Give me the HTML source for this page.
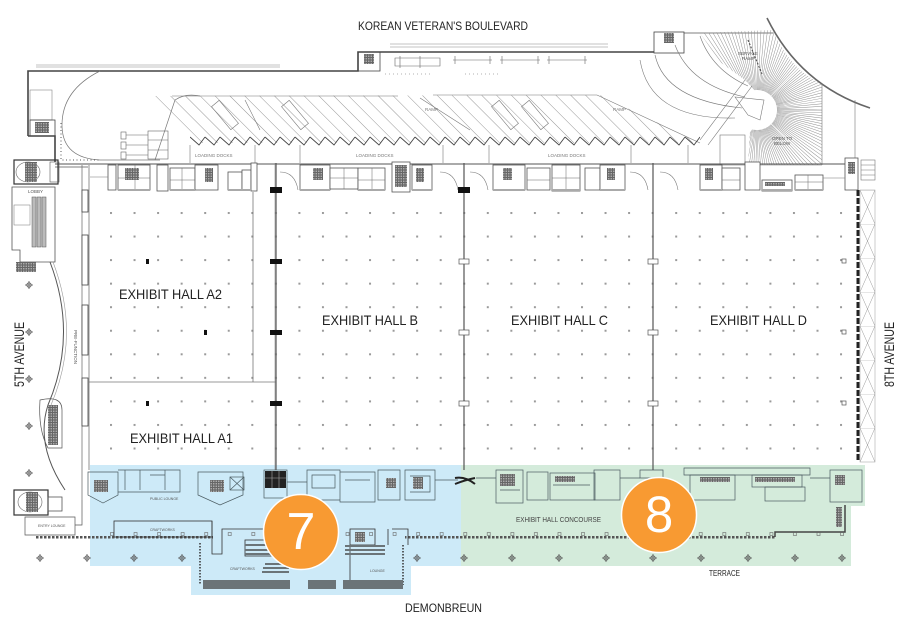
<!DOCTYPE html>
<html><head><meta charset="utf-8"><style>
html,body{margin:0;padding:0;background:#fff;}
svg{display:block;}
text{font-family:"Liberation Sans",sans-serif;}
</style></head><body>
<svg xmlns="http://www.w3.org/2000/svg" width="902" height="631" viewBox="0 0 902 631">
<defs>
<pattern id="dots" x="110" y="212" width="23.55" height="23.55" patternUnits="userSpaceOnUse"><rect x="0" y="0" width="2" height="2" fill="#9a9a9a"/></pattern>
<pattern id="hatch" width="10.5" height="10.5" patternUnits="userSpaceOnUse" patternTransform="rotate(-45)"><line x1="0" y1="0" x2="0" y2="10.5" stroke="#6a6a6a" stroke-width="0.7"/></pattern>
<pattern id="zig" x="190" y="136" width="15" height="10" patternUnits="userSpaceOnUse"><path d="M0 1 L9 9 L15 1" fill="none" stroke="#444" stroke-width="0.9"/></pattern>
<pattern id="xs" x="860" y="190" width="15" height="34" patternUnits="userSpaceOnUse"><path d="M0 0 L15 34 M15 0 L0 34 M0 0 H15" fill="none" stroke="#999" stroke-width="0.5"/></pattern>
<pattern id="tile" width="2.5" height="2.5" patternUnits="userSpaceOnUse"><rect width="2.5" height="2.5" fill="#666"/><rect x="0.6" y="0.6" width="1.3" height="1.3" fill="#bbb"/></pattern>
<pattern id="sq" x="110" y="532" width="23.55" height="6" patternUnits="userSpaceOnUse"><rect x="0.5" y="0.5" width="3" height="3" fill="none" stroke="#666" stroke-width="0.6"/></pattern>
<pattern id="wdash" x="0" y="0" width="4" height="4" patternUnits="userSpaceOnUse"><rect width="2.5" height="4" fill="#555"/></pattern>
<clipPath id="rampclip"><path d="M700 33 L773 30 Q790 70 822 84 L822 165 L748 165 L750 132 L764 116 L762 98 L745 80 L720 62 Z"/></clipPath>
<clipPath id="hatchclip"><path d="M150 96 L600 95 L700 143 L190 143 Z"/></clipPath>
<g id="ch"><circle r="2.2" fill="none" stroke="#555" stroke-width="0.8"/><path d="M-4 0 H4 M0 -4 V4" stroke="#555" stroke-width="0.8"/></g>
</defs>

<rect width="902" height="631" fill="#fff"/>

<!-- colored regions -->
<path d="M90 465 H461 V566 H411 V595 H191 V566 H90 Z" fill="#cdeaf8"/>
<path d="M461 465 H865 V506 H851 V566 H461 Z" fill="#d4ebdb"/>

<!-- top outline -->
<g fill="none" stroke="#444" stroke-width="1.6">
<path d="M28 136 V71 H358 V52 H654"/>
<path d="M28 136 H55 V162"/>
</g>
<g fill="none" stroke="#888" stroke-width="0.6">
<path d="M36 65 H280 M36 67 H280"/>
<path d="M390 44 H608 M390 47 H608"/>
<rect x="30" y="90" width="22" height="30"/>
</g>
<rect x="30" y="120" width="25" height="16" fill="none" stroke="#444" stroke-width="0.8"/>
<rect x="35" y="122" width="14" height="11" fill="url(#tile)"/>
<rect x="358" y="52" width="22" height="19" fill="none" stroke="#444" stroke-width="0.8"/>
<rect x="364" y="54" width="10" height="10" fill="url(#tile)"/>
<g fill="none" stroke="#666" stroke-width="0.6">
<path d="M395 58 H440 V66 H395 Z M400 56 V68 M420 56 V68"/>
<path d="M453 60 H492 M455 56 V64 M490 56 V64 M500 60 H540 M502 56 V64 M538 56 V64 M547 60 H587 M549 56 V64 M585 56 V64"/>
</g>
<path d="M385 74 H430 M465 74 H500" stroke="#666" stroke-width="0.6" stroke-dasharray="1 3"/>

<!-- left ramp loop -->
<g fill="none" stroke="#777" stroke-width="0.7">
<path d="M100 71 Q62 90 62 125 Q62 158 100 160 L160 160"/>
<path d="M155 160 L175 100 Q185 93 200 96"/>
</g>
<path d="M61 123 V160 H100" fill="none" stroke="#555" stroke-width="1" stroke-dasharray="1 2.5"/>
<g fill="none" stroke="#666" stroke-width="0.6">
<rect x="121" y="132" width="5" height="7"/><rect x="121" y="142" width="5" height="7"/><rect x="121" y="152" width="5" height="7"/>
<path d="M126 135 H148 M126 145 H148 M126 155 H148"/>
<rect x="148" y="131" width="20" height="28"/><path d="M148 140 H168 M148 150 H168"/>
</g>

<!-- loading dock hatch -->
<rect x="140" y="90" width="570" height="60" fill="url(#hatch)" clip-path="url(#hatchclip)"/>
<path d="M172 96 H398 M433 95 H597" stroke="#777" stroke-width="0.6" fill="none"/>
<path d="M597 95 L700 143 M420 98 L470 130 M245 100 L260 130" stroke="#777" stroke-width="0.6" fill="none"/>
<rect x="190" y="136" width="510" height="10" fill="url(#zig)"/>
<g stroke="#777" stroke-width="0.6" fill="none">
<path d="M190 145 V163 M255 145 V163 M300 145 V163 M443 145 V163 M489 145 V163 M631 145 V163 M688 145 V163"/>
<rect x="220" y="100" width="10" height="30" transform="rotate(-40 225 115)"/>
<rect x="290" y="100" width="10" height="30" transform="rotate(-40 295 115)"/>
<rect x="500" y="100" width="10" height="30" transform="rotate(-40 505 115)"/>
<rect x="530" y="100" width="10" height="30" transform="rotate(-40 535 115)"/>
</g>
<g font-size="4.5" fill="#777">
<text x="195" y="157">LOADING DOCKS</text>
<text x="356" y="157">LOADING DOCKS</text>
<text x="548" y="157">LOADING DOCKS</text>
<text x="425" y="111">RAMP</text>
<text x="613" y="111">RAMP</text>
</g>

<!-- service ramp -->
<rect x="654" y="32" width="30" height="21" fill="none" stroke="#444" stroke-width="0.8"/>
<rect x="664" y="33" width="10" height="10" fill="url(#tile)"/>
<path d="M684 33 H773" stroke="#555" stroke-width="0.8"/>
<g clip-path="url(#rampclip)"><circle cx="757" cy="110" r="75" fill="none" stroke="#888" stroke-width="110" stroke-dasharray="0.45 2.6"/></g>
<path d="M767 18 Q800 85 870 108" fill="none" stroke="#666" stroke-width="1.6"/>
<g fill="none" stroke="#777" stroke-width="0.6">
<path d="M822 84 V165 M855 100 V165 M748 165 H822"/>
<path d="M640 60 Q650 120 735 118 M655 55 Q665 100 742 108 M675 45 Q690 85 745 97 M700 36 Q712 70 748 86"/>
<path d="M745 80 L700 140 M752 86 L708 145"/>
<path d="M735 97 L748 115 L760 120 L764 100 Z"/>
<rect x="720" y="135" width="25" height="30"/>
</g>
<path d="M748 40 L762 74" stroke="#555" stroke-width="1.2" stroke-dasharray="2 1.5"/>
<g font-size="4.5" fill="#555">
<text x="738" y="55">SERVICE</text><text x="742" y="60">RAMP</text>
<text x="772" y="140">OPEN TO</text><text x="774" y="145">BELOW</text>
</g>

<!-- hall dots -->
<rect x="100" y="205" width="750" height="250" fill="url(#dots)"/>

<!-- service band -->
<path d="M55 164 H858" stroke="#555" stroke-width="1"/>
<path d="M55 167 H88" stroke="#555" stroke-width="0.8"/>
<g fill="#fff" stroke="#555" stroke-width="0.8">
<rect x="108" y="165" width="8" height="25"/>
<rect x="118" y="165" width="32" height="25"/>
<rect x="157" y="165" width="11" height="26"/>
<rect x="170" y="168" width="25" height="22"/>
<rect x="195" y="165" width="23" height="25"/>
<rect x="228" y="172" width="14" height="18"/>
<rect x="242" y="170" width="9" height="20"/>
<rect x="251" y="163" width="6" height="28"/>
<rect x="300" y="165" width="30" height="25"/>
<rect x="330" y="168" width="28" height="21"/>
<rect x="358" y="168" width="27" height="22"/>
<rect x="392" y="162" width="18" height="30"/>
<rect x="412" y="165" width="20" height="25"/>
<rect x="493" y="165" width="32" height="25"/>
<rect x="527" y="168" width="23" height="22"/>
<rect x="552" y="165" width="28" height="26"/>
<rect x="585" y="168" width="15" height="22"/>
<rect x="600" y="165" width="25" height="25"/>
<rect x="700" y="165" width="22" height="25"/>
<rect x="722" y="168" width="18" height="22"/>
<rect x="745" y="162" width="15" height="28"/>
<rect x="762" y="180" width="30" height="11"/>
<rect x="795" y="175" width="28" height="15"/>
<rect x="845" y="158" width="13" height="32"/>
</g>
<g fill="none" stroke="#666" stroke-width="0.5">
<path d="M118 178 H150 M135 165 V190 M170 180 H195 M182 168 V190 M330 178 H358 M344 168 V189 M358 180 H385 M372 168 V190 M527 180 H550 M552 178 H580 M566 165 V191 M722 180 H740 M795 182 H823 M808 175 V190"/>
</g>
<g fill="url(#tile)">
<rect x="125" y="168" width="14" height="12"/>
<rect x="205" y="168" width="8" height="14"/>
<rect x="313" y="168" width="10" height="12"/>
<rect x="395" y="165" width="12" height="22"/>
<rect x="416" y="168" width="8" height="14"/>
<rect x="503" y="168" width="9" height="12"/>
<rect x="607" y="168" width="8" height="12"/>
<rect x="705" y="168" width="8" height="12"/>
<rect x="765" y="182" width="20" height="4"/>
<rect x="848" y="162" width="7" height="12"/>
</g>
<g fill="#aaa">
<rect x="118" y="189" width="32" height="2"/><rect x="170" y="189" width="25" height="2"/><rect x="228" y="189" width="23" height="2"/>
<rect x="300" y="189" width="30" height="2"/><rect x="358" y="189" width="27" height="2"/><rect x="412" y="189" width="20" height="2"/>
<rect x="493" y="189" width="32" height="2"/><rect x="552" y="189" width="28" height="2"/><rect x="600" y="189" width="25" height="2"/>
<rect x="700" y="189" width="22" height="2"/><rect x="762" y="189" width="30" height="2"/><rect x="795" y="189" width="28" height="2"/>
</g>
<g fill="none" stroke="#777" stroke-width="0.6">
<path d="M90 177 H108 M280 172 Q295 172 298 190 M440 172 Q455 172 458 190 M470 172 Q485 172 488 190 M630 172 Q645 172 648 190 M660 172 Q675 172 678 190 M823 178 H845"/>
</g>

<!-- hall walls -->
<g fill="none" stroke="#777" stroke-width="0.8">
<path d="M82 165 V500 M89 165 V470"/>
<path d="M253 192 V382 M89 382 H276"/>
</g>
<g fill="#fff" stroke="#444" stroke-width="0.8">
<rect x="82" y="190" width="6" height="22"/><rect x="82" y="235" width="6" height="50"/><rect x="82" y="305" width="6" height="50"/><rect x="82" y="378" width="6" height="48"/>
</g>
<text transform="translate(74,330) rotate(90)" font-size="4.5" fill="#555">PRE-FUNCTION</text>
<g stroke="#555" stroke-width="1.2" fill="none">
<path d="M276 163 V470 M464 163 V470 M653 163 V470"/>
</g>
<path d="M275 163 V470" stroke="#888" stroke-width="0.6"/>
<g fill="#111">
<rect x="270" y="187" width="12" height="6"/><rect x="458" y="187" width="12" height="6"/>
<rect x="270" y="259" width="12" height="5"/><rect x="270" y="330" width="12" height="5"/><rect x="270" y="401" width="12" height="5"/>
<rect x="146" y="259" width="3" height="5"/><rect x="204" y="330" width="3" height="5"/><rect x="146" y="401" width="3" height="5"/>
</g>
<g fill="#fff" stroke="#555" stroke-width="0.7">
<rect x="459" y="259" width="10" height="5"/><rect x="459" y="330" width="10" height="5"/><rect x="459" y="401" width="10" height="5"/>
<rect x="648" y="259" width="10" height="5"/><rect x="648" y="330" width="10" height="5"/><rect x="648" y="401" width="10" height="5"/>
<rect x="842" y="259" width="4" height="4"/><rect x="842" y="330" width="4" height="4"/><rect x="842" y="401" width="4" height="4"/>
</g>
<path d="M858 190 V462" stroke="#222" stroke-width="3" stroke-dasharray="6 2"/>
<rect x="860" y="190" width="15" height="272" fill="url(#xs)" stroke="#999" stroke-width="0.5"/>
<rect x="861" y="160" width="14" height="20" fill="none" stroke="#777" stroke-width="0.6"/>
<path d="M861 165 H875 M861 170 H875 M861 175 H875" stroke="#777" stroke-width="0.5"/>

<!-- left lobby -->
<rect x="14" y="160" width="44" height="24" fill="none" stroke="#333" stroke-width="1.2"/>
<ellipse cx="28" cy="172" rx="12" ry="10" fill="none" stroke="#666" stroke-width="0.6"/>
<rect x="25" y="162" width="12" height="20" fill="url(#tile)"/>
<rect x="50" y="162" width="9" height="20" fill="none" stroke="#555" stroke-width="0.6"/>
<path d="M12 187 V250 H20 V262 H55 V187 Z" fill="none" stroke="#555" stroke-width="0.8"/>
<rect x="32" y="197" width="4" height="50" fill="#bbb" stroke="#555" stroke-width="0.5"/>
<rect x="37" y="197" width="4" height="50" fill="#bbb" stroke="#555" stroke-width="0.5"/>
<rect x="42" y="197" width="4" height="50" fill="#bbb" stroke="#555" stroke-width="0.5"/>
<rect x="14" y="205" width="16" height="20" fill="none" stroke="#777" stroke-width="0.5"/>
<text x="28" y="193" font-size="4.5" fill="#555">LOBBY</text>
<rect x="16" y="262" width="20" height="10" fill="url(#tile)"/>
<path d="M50 262 Q78 335 48 405 Q35 445 65 490" fill="none" stroke="#555" stroke-width="1"/>
<path d="M53 262 Q81 335 51 405" fill="none" stroke="#999" stroke-width="0.6"/>
<path d="M40 400 Q62 395 62 410 L62 448 L48 448 Q38 430 40 400 Z" fill="none" stroke="#555" stroke-width="0.7"/>
<rect x="48" y="405" width="10" height="40" fill="url(#tile)"/>
<g transform="translate(29,285)"><use href="#ch"/></g>
<g transform="translate(29,332)"><use href="#ch"/></g>
<g transform="translate(29,379)"><use href="#ch"/></g>
<g transform="translate(29,426)"><use href="#ch"/></g>
<g transform="translate(29,473)"><use href="#ch"/></g>
<rect x="14" y="490" width="34" height="25" fill="none" stroke="#333" stroke-width="1.2"/>
<ellipse cx="30" cy="502" rx="12" ry="10" fill="none" stroke="#666" stroke-width="0.6"/>
<rect x="26" y="492" width="12" height="20" fill="url(#tile)"/>
<rect x="48" y="497" width="14" height="14" fill="none" stroke="#555" stroke-width="0.8"/>
<path d="M25 517 H75 V535 H25 Z M82 500 V525 H75" fill="none" stroke="#555" stroke-width="0.7"/>
<text x="38" y="527" font-size="3.5" fill="#555">ENTRY LOUNGE</text>

<!-- bottom concourse: blue band rooms -->
<g fill="none" stroke="#4a5a60" stroke-width="0.7">
<path d="M88 472 H118 V495 L103 503 L88 495 Z"/>
<path d="M198 472 H243 V495 L220 505 L198 495 Z"/>
<path d="M118 470 H180 V492 H118 M125 470 V490 M140 470 V490 M150 475 H165 V490 M165 470 V485"/>
<rect x="230" y="477" width="14" height="13"/><path d="M230 477 L244 490 M244 477 L230 490"/>
<rect x="264" y="470" width="23" height="28"/>
<path d="M307 470 H340 V500 H307 Z M312 475 H335 V488 H312 Z M340 472 H375 V502 H340 Z M345 480 H370 M378 470 H400 V500 H378 Z M405 470 H435 V500 H405 Z M410 476 H430 V492 H410"/>
<path d="M287 482 H307 M435 480 H458"/>
</g>
<rect x="94" y="480" width="14" height="12" fill="url(#tile)"/>
<rect x="210" y="480" width="14" height="12" fill="url(#tile)"/>
<rect x="265" y="471" width="21" height="17" fill="#222"/>
<path d="M265 478 H286 M272 471 V488 M279 471 V488" stroke="#aaa" stroke-width="0.6"/>
<rect x="413" y="477" width="10" height="12" fill="url(#tile)"/>
<rect x="386" y="478" width="10" height="10" fill="url(#tile)"/>
<text x="150" y="500" font-size="3.5" fill="#555">PUBLIC LOUNGE</text>

<!-- walkway -->
<rect x="35" y="536" width="178" height="2.5" fill="url(#wdash)"/>
<rect x="405" y="536" width="370" height="2.5" fill="url(#wdash)"/>
<path d="M775 537 V532 H845 V505" fill="none" stroke="#444" stroke-width="1.5"/>
<rect x="100" y="530" width="760" height="6" fill="url(#sq)"/>

<!-- blue lower details -->
<g fill="none" stroke="#333" stroke-width="0.8">
<rect x="114" y="521" width="98" height="16"/>
<path d="M212 521 V554 H222 V529 H265"/>
<path d="M350 545 V585 M388 529 V545 M392 529 H408 V545 M270 537 H296"/>
<rect x="350" y="529" width="25" height="16"/>
<rect x="245" y="540" width="30" height="16"/>
</g>
<path d="M200 543 V585 M403 545 V585" stroke="#333" stroke-width="1.5" stroke-dasharray="1.5 1.5"/>
<g fill="#6b7478">
<rect x="203" y="580" width="87" height="9"/>
<rect x="308" y="580" width="28" height="9"/>
<rect x="343" y="580" width="60" height="9"/>
<rect x="245" y="544" width="26" height="2"/><rect x="245" y="549" width="26" height="2"/><rect x="245" y="553" width="26" height="2"/>
<rect x="265" y="563" width="24" height="2"/><rect x="263" y="567" width="26" height="2"/><rect x="262" y="571" width="27" height="2"/>
<rect x="345" y="545" width="40" height="2"/><rect x="345" y="549" width="40" height="2"/><rect x="345" y="553" width="40" height="2"/>
</g>
<rect x="355" y="532" width="10" height="10" fill="url(#tile)"/>
<g font-size="3.5" fill="#555">
<text x="150" y="531">CRAFTWORKS</text>
<text x="230" y="570">CRAFTWORKS</text>
<text x="370" y="572">LOUNGE</text>
</g>

<!-- green band rooms -->
<g fill="none" stroke="#4a5a60" stroke-width="0.7">
<rect x="496" y="470" width="27" height="33"/>
<rect x="527" y="472" width="21" height="28"/>
<rect x="550" y="473" width="45" height="27"/>
<rect x="594" y="470" width="26" height="30"/>
<path d="M640 470 H663 V478 H640 Z"/>
<path d="M684 468 H810 V475 H684 Z"/>
<rect x="690" y="475" width="45" height="25"/>
<rect x="752" y="475" width="50" height="12"/>
<rect x="765" y="487" width="40" height="14"/>
<rect x="830" y="470" width="32" height="32"/>
<path d="M476 478 H496 M620 478 H640 M810 478 H830 M500 490 H520 M553 485 H590"/>
</g>
<rect x="500" y="474" width="15" height="12" fill="url(#tile)"/>
<rect x="555" y="476" width="20" height="6" fill="url(#tile)"/>
<rect x="700" y="477" width="30" height="5" fill="url(#tile)"/>
<rect x="755" y="477" width="40" height="5" fill="url(#tile)"/>
<rect x="835" y="475" width="10" height="10" fill="url(#tile)"/>
<rect x="836" y="507" width="6" height="20" fill="url(#tile)"/>
<path d="M455 478 Q465 476 475 484 M455 484 Q465 480 475 478" stroke="#222" stroke-width="2" fill="none"/>

<!-- crosshair column markers -->
<g>
<use href="#ch" x="40" y="558"/><use href="#ch" x="87" y="558"/><use href="#ch" x="134" y="558"/><use href="#ch" x="182" y="558"/>
<use href="#ch" x="417" y="558"/><use href="#ch" x="464" y="558"/><use href="#ch" x="512" y="558"/><use href="#ch" x="559" y="558"/>
<use href="#ch" x="606" y="558"/><use href="#ch" x="653" y="558"/><use href="#ch" x="701" y="558"/><use href="#ch" x="748" y="558"/>
<use href="#ch" x="795" y="558"/><use href="#ch" x="842" y="558"/>
</g>

<!-- circles -->
<circle cx="301" cy="532" r="37.5" fill="#f89a32" stroke="#fff" stroke-width="1.5"/>
<text x="301" y="549" font-size="52" fill="#fff" text-anchor="middle">7</text>
<circle cx="659" cy="515" r="37.5" fill="#f89a32" stroke="#fff" stroke-width="1.5"/>
<text x="659" y="532" font-size="51" fill="#fff" text-anchor="middle">8</text>

<!-- labels -->
<g fill="#222">
<text x="358" y="30" font-size="12" textLength="170" lengthAdjust="spacingAndGlyphs">KOREAN VETERAN'S BOULEVARD</text>
<text x="119" y="299" font-size="14" textLength="103" lengthAdjust="spacingAndGlyphs">EXHIBIT HALL A2</text>
<text x="130" y="443" font-size="14" textLength="103" lengthAdjust="spacingAndGlyphs">EXHIBIT HALL A1</text>
<text x="322" y="325" font-size="14" textLength="96" lengthAdjust="spacingAndGlyphs">EXHIBIT HALL B</text>
<text x="511" y="325" font-size="14" textLength="97" lengthAdjust="spacingAndGlyphs">EXHIBIT HALL C</text>
<text x="710" y="325" font-size="14" textLength="97" lengthAdjust="spacingAndGlyphs">EXHIBIT HALL D</text>
<text transform="translate(24,354.5) rotate(-90)" font-size="14" text-anchor="middle" textLength="65" lengthAdjust="spacingAndGlyphs">5TH AVENUE</text>
<text transform="translate(894,354.5) rotate(-90)" font-size="14" text-anchor="middle" textLength="65" lengthAdjust="spacingAndGlyphs">8TH AVENUE</text>
<text x="405" y="612" font-size="12" textLength="77" lengthAdjust="spacingAndGlyphs">DEMONBREUN</text>
<text x="709" y="576" font-size="8" textLength="31" lengthAdjust="spacingAndGlyphs">TERRACE</text>
<text x="516" y="522" font-size="7" fill="#444" textLength="85" lengthAdjust="spacingAndGlyphs">EXHIBIT HALL CONCOURSE</text>
</g>
</svg>
</body></html>
